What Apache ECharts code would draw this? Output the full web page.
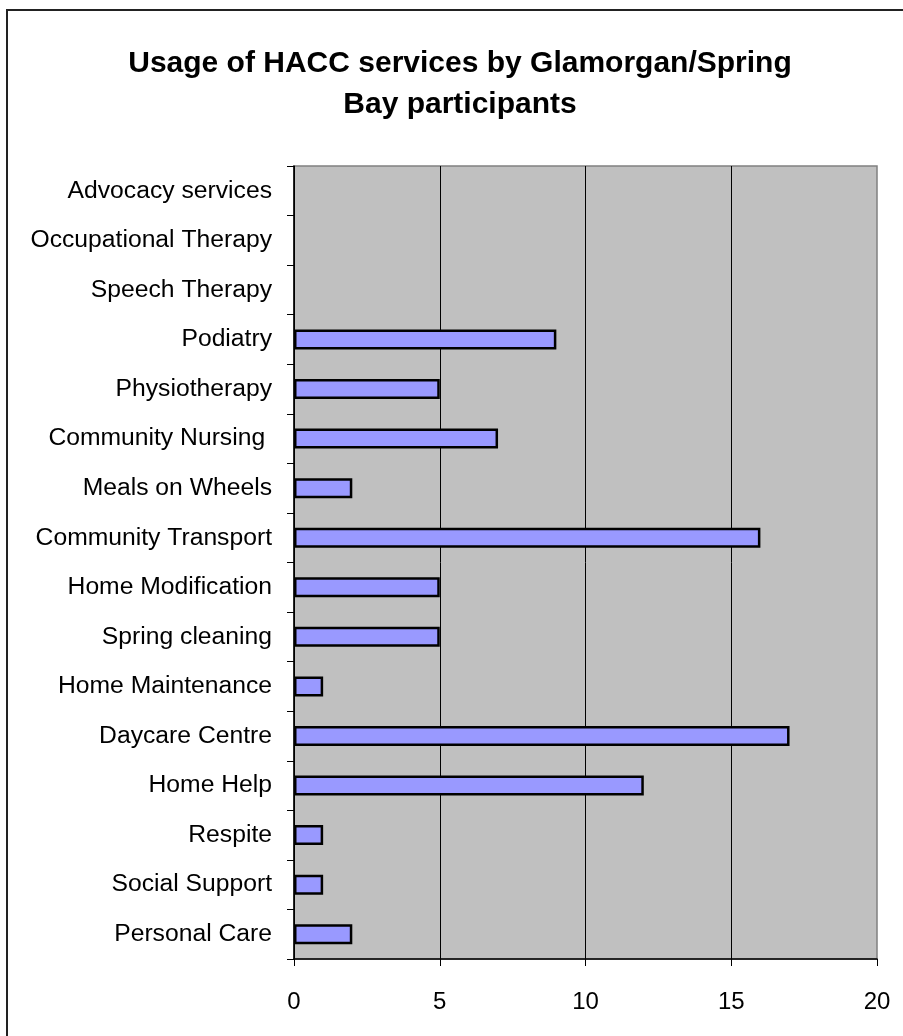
<!DOCTYPE html>
<html>
<head>
<meta charset="utf-8">
<title>Usage of HACC services by Glamorgan/Spring Bay participants</title>
<script src="https://cdn.jsdelivr.net/npm/echarts@6/dist/echarts.min.js"></script>
<style>
  html, body { margin: 0; padding: 0; background: #ffffff; }
  #chart { width: 903px; height: 1036px; }
</style>
</head>
<body>
<div id="chart"></div>
<script>
// Services, listed from top of the chart to the bottom
const services = [
  'Advocacy services',
  'Occupational Therapy',
  'Speech Therapy',
  'Podiatry',
  'Physiotherapy',
  'Community Nursing ',
  'Meals on Wheels',
  'Community Transport',
  'Home Modification',
  'Spring cleaning',
  'Home Maintenance',
  'Daycare Centre',
  'Home Help',
  'Respite',
  'Social Support',
  'Personal Care'
];

// Number of participants using each service
const participants = [0, 0, 0, 9, 5, 7, 2, 16, 5, 5, 1, 17, 12, 1, 1, 2];

const titleLines = ['Usage of HACC services by Glamorgan/Spring', 'Bay participants'];

const FONT = '"Liberation Sans", Arial, Helvetica, sans-serif';

// Zero-valued services get no outline so nothing is drawn for them
const barData = participants.map(v => ({
  value: v,
  itemStyle: v === 0 ? { borderWidth: 0 } : undefined
}));

const chart = echarts.init(document.getElementById('chart'), null, { renderer: 'canvas' });

chart.setOption({
  backgroundColor: '#ffffff',
  animation: false,
  graphic: [
    {
      type: 'rect',
      z: 100,
      silent: true,
      shape: { x: 7, y: 10, width: 1000, height: 1100 },
      style: { fill: 'none', stroke: '#222222', lineWidth: 2 }
    },
    {
      type: 'text',
      z: 100,
      style: {
        x: 460, y: 64,
        text: titleLines[0],
        font: 'bold 30px ' + FONT,
        fill: '#000000',
        align: 'center',
        verticalAlign: 'middle'
      }
    },
    {
      type: 'text',
      z: 100,
      style: {
        x: 460, y: 105,
        text: titleLines[1],
        font: 'bold 30px ' + FONT,
        fill: '#000000',
        align: 'center',
        verticalAlign: 'middle'
      }
    }
  ],
  grid: {
    left: 294,
    top: 166,
    width: 583,
    height: 793,
    show: true,
    backgroundColor: '#C0C0C0',
    borderColor: '#808080',
    borderWidth: 1.5
  },
  xAxis: {
    type: 'value',
    min: 0,
    max: 20,
    interval: 5,
    axisLine: { show: true, lineStyle: { color: '#000000', width: 1.5 } },
    axisTick: { show: true, inside: false, length: 7, lineStyle: { color: '#000000', width: 1 } },
    axisLabel: {
      margin: 31,
      color: '#000000',
      fontSize: 24,
      fontFamily: FONT
    },
    splitLine: {
      show: true,
      showMaxLine: false,
      lineStyle: { color: '#000000', width: 1 }
    }
  },
  yAxis: {
    type: 'category',
    inverse: true,
    data: services,
    axisLine: { show: true, lineStyle: { color: '#000000', width: 1.5 } },
    axisTick: { show: true, inside: false, length: 7, lineStyle: { color: '#000000', width: 1 } },
    axisLabel: {
      margin: 22,
      color: '#000000',
      fontSize: 24.7,
      fontFamily: FONT
    },
    splitLine: { show: false }
  },
  series: [
    {
      type: 'bar',
      data: barData,
      barWidth: 20,
      itemStyle: {
        color: '#9999FF',
        borderColor: '#000000',
        borderWidth: 2.5
      }
    }
  ]
});
</script>
</body>
</html>
